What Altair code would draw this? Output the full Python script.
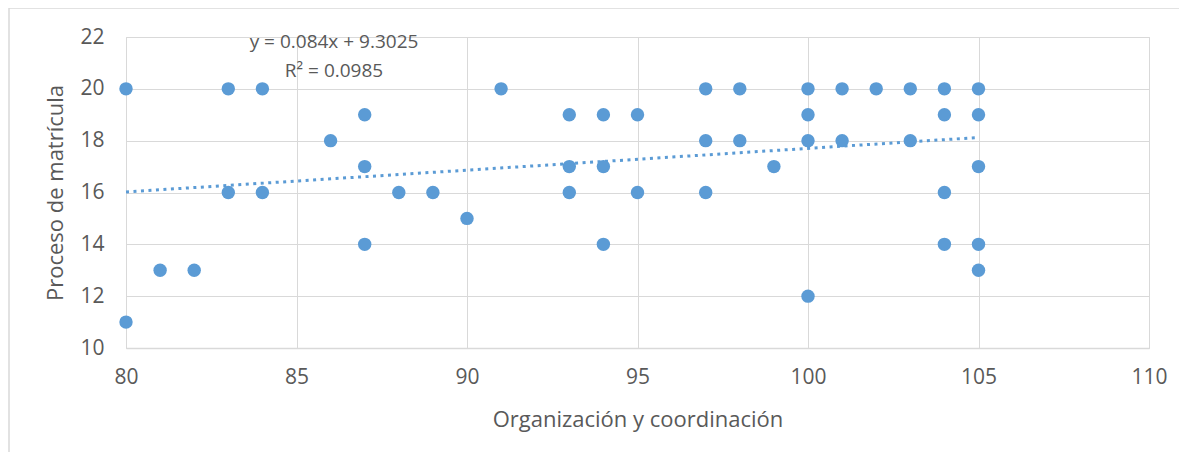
import altair as alt
import pandas as pd

# Data
x_vals = [80, 80, 81, 82, 83, 83, 84, 84, 86, 87, 87, 87, 88, 89, 90, 91,
          93, 93, 93, 94, 94, 94, 95, 95, 97, 97, 97, 98, 98, 99,
          100, 100, 100, 100, 101, 101, 102, 103, 103,
          104, 104, 104, 104, 105, 105, 105, 105, 105]
y_vals = [20, 11, 13, 13, 20, 16, 20, 16, 18, 19, 17, 14, 16, 16, 15, 20,
          19, 17, 16, 19, 17, 14, 19, 16, 20, 18, 16, 20, 18, 17,
          20, 19, 18, 12, 20, 18, 20, 20, 18,
          20, 19, 16, 14, 20, 19, 17, 14, 13]

slope = 0.084
intercept = 9.3025
trend_x = [80, 105]
eq_text = "y = 0.084x + 9.3025"
r2_text = "R² = 0.0985"

x_title = "Organización y coordinación"
y_title = "Proceso de matrícula"
x_ticks = [80, 85, 90, 95, 100, 105, 110]
y_ticks = [10, 12, 14, 16, 18, 20, 22]

FONT = "Open Sans"
TXT = "#595959"
GRID = "#d9d9d9"
BLUE = "#5b9bd5"

W, H = 1023, 311

df = pd.DataFrame({"x": x_vals, "y": y_vals})
trend = pd.DataFrame({"x": trend_x, "y": [slope * v + intercept for v in trend_x]})

xs = alt.Scale(domain=[80, 110], nice=False, zero=False)
ys = alt.Scale(domain=[10, 22], nice=False, zero=False)

xaxis = alt.Axis(values=x_ticks, title=x_title, grid=True, gridColor=GRID, gridWidth=1,
                 domainColor=GRID, domainWidth=1.5, ticks=False, labelFlush=False,
                 labelFont=FONT, labelFontSize=21, labelColor=TXT, labelPadding=18,
                 titleFont=FONT, titleFontSize=22, titleColor=TXT, titleFontWeight="normal",
                 titleX=W / 2, titleY=71, titleBaseline="middle", titleAlign="center")
yaxis = alt.Axis(values=y_ticks, title=y_title, grid=True, gridColor=GRID, gridWidth=1,
                 domain=False, ticks=False, labelFlush=False,
                 labelFont=FONT, labelFontSize=21, labelColor=TXT, labelPadding=22,
                 titleFont=FONT, titleFontSize=22, titleColor=TXT, titleFontWeight="normal",
                 titleX=-71, titleY=H / 2, titleAngle=270, titleBaseline="middle",
                 titleAlign="center")

border = alt.Chart(pd.DataFrame({"a": [0]})).mark_rect(
    fill="transparent", stroke=GRID, strokeWidth=1.5
).encode(x=alt.value(-117), x2=alt.value(1200), y=alt.value(-29), y2=alt.value(600))

points = alt.Chart(df).mark_circle(size=180, color=BLUE, opacity=1).encode(
    x=alt.X("x:Q", scale=xs, axis=xaxis),
    y=alt.Y("y:Q", scale=ys, axis=yaxis),
)

line = alt.Chart(trend).mark_line(
    color=BLUE, strokeWidth=3, strokeDash=[3, 4.5]
).encode(x=alt.X("x:Q", scale=xs), y=alt.Y("y:Q", scale=ys))

labels = alt.Chart(pd.DataFrame({"t": [eq_text, r2_text], "x": [86.1, 86.1], "y": [21.82, 20.7]})).mark_text(
    font=FONT, fontSize=19, color=TXT, align="center", baseline="middle"
).encode(x=alt.X("x:Q", scale=xs), y=alt.Y("y:Q", scale=ys), text="t:N")

chart = alt.layer(border, line, points, labels).properties(
    width=W, height=H,
    autosize=alt.AutoSizeParams(type="none"),
    padding={"left": 118, "top": 29, "right": 30, "bottom": 104},
).configure_view(stroke=GRID, strokeWidth=1)

chart.save("out.html", embed_options={"renderer": "svg", "actions": False})
